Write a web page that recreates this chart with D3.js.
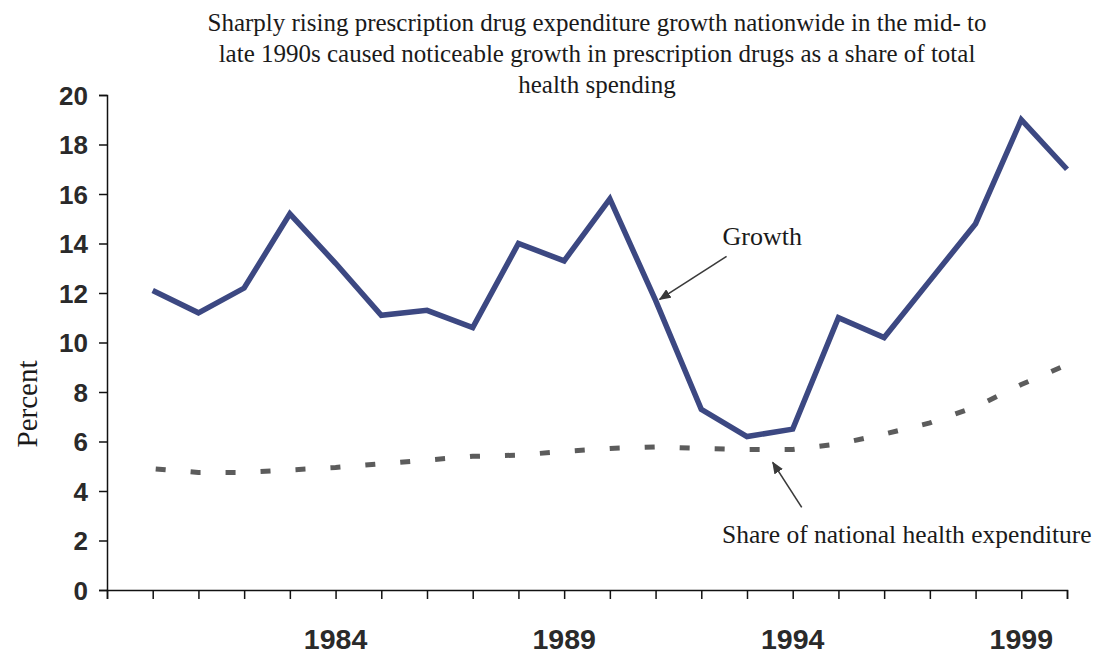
<!DOCTYPE html>
<html>
<head>
<meta charset="utf-8">
<script src="https://cdn.jsdelivr.net/npm/d3@7/dist/d3.min.js"></script>
<style>
  html, body { margin: 0; padding: 0; background: #ffffff; }
  svg { display: block; }
</style>
</head>
<body>
<svg id="chart" width="1096" height="656"></svg>
<script>
// Years on the horizontal axis
const years = [1980, 1981, 1982, 1983, 1984, 1985, 1986, 1987, 1988, 1989, 1990,
               1991, 1992, 1993, 1994, 1995, 1996, 1997, 1998, 1999, 2000];
// Annual growth in prescription drug expenditure (percent)
const growth = [12.1, 11.2, 12.2, 15.2, 13.2, 11.1, 11.3, 10.6, 14.0, 13.3, 15.8,
                11.7, 7.3, 6.2, 6.5, 11.0, 10.2, 12.5, 14.8, 19.0, 17.0];
// Prescription drugs as a share of national health expenditure (percent)
const share = [4.9, 4.75, 4.75, 4.85, 4.95, 5.1, 5.25, 5.4, 5.45, 5.6, 5.72,
               5.78, 5.72, 5.68, 5.68, 5.9, 6.3, 6.75, 7.4, 8.3, 9.1];
// Axis ticks and labels
const yTicks = [0, 2, 4, 6, 8, 10, 12, 14, 16, 18, 20];
const xTickYears = [1979, 1980, 1981, 1982, 1983, 1984, 1985, 1986, 1987, 1988, 1989, 1990,
                    1991, 1992, 1993, 1994, 1995, 1996, 1997, 1998, 1999, 2000];
const xLabelYears = [1984, 1989, 1994, 1999];
const titleLines = [
  "Sharply rising prescription drug expenditure growth nationwide in the mid- to",
  "late 1990s caused noticeable growth in prescription drugs as a share of total",
  "health spending"
];

const svg = d3.select("#chart");
const x = d3.scaleLinear().domain([1979, 2000]).range([107, 1067]);
const y = d3.scaleLinear().domain([0, 20]).range([590, 95]);

const serif = "'Liberation Serif', 'Times New Roman', serif";
const sans = "'Liberation Sans', Arial, sans-serif";

// Arrowhead marker
svg.append("defs").append("marker")
  .attr("id", "arrow")
  .attr("viewBox", "0 0 12 10")
  .attr("refX", 11).attr("refY", 5)
  .attr("markerWidth", 12).attr("markerHeight", 10)
  .attr("markerUnits", "userSpaceOnUse")
  .attr("orient", "auto")
  .append("path")
  .attr("d", "M0,0 L12,5 L0,10 Z")
  .attr("fill", "#3a3a3a");

// Title
svg.append("g")
  .selectAll("text")
  .data(titleLines)
  .join("text")
  .attr("x", 597)
  .attr("y", (d, i) => 31 + i * 31)
  .attr("text-anchor", "middle")
  .attr("font-family", serif)
  .attr("font-size", 25)
  .attr("fill", "#1a1a1a")
  .text(d => d);

// Y axis
const yAxis = svg.append("g")
  .attr("transform", `translate(${x(1979)},0)`)
  .call(d3.axisLeft(y).tickValues(yTicks).tickSize(8).tickPadding(11).tickFormat(d3.format("d")));
yAxis.select(".domain").attr("stroke", "#111").attr("stroke-width", 1.5);
yAxis.selectAll(".tick line").attr("stroke", "#111").attr("stroke-width", 1.5);
yAxis.selectAll(".tick text")
  .attr("font-family", sans).attr("font-weight", "bold")
  .attr("font-size", 26).attr("fill", "#2a2a2a").attr("dy", "0.36em");

// X axis
const xAxis = svg.append("g")
  .attr("transform", `translate(0,${y(0)})`)
  .call(d3.axisBottom(x).tickValues(xTickYears).tickSize(9).tickFormat(""));
xAxis.select(".domain").attr("stroke", "#111").attr("stroke-width", 1.5);
xAxis.selectAll(".tick line").attr("stroke", "#111").attr("stroke-width", 1.5);

svg.append("g")
  .selectAll("text")
  .data(xLabelYears)
  .join("text")
  .attr("x", d => x(d))
  .attr("y", 649)
  .attr("text-anchor", "middle")
  .attr("font-family", sans).attr("font-weight", "bold")
  .attr("font-size", 28.5).attr("fill", "#2a2a2a")
  .text(d => d);

// Y axis title
svg.append("text")
  .attr("transform", "translate(37,404) rotate(-90)")
  .attr("text-anchor", "middle")
  .attr("font-family", serif)
  .attr("font-size", 29)
  .attr("fill", "#1a1a1a")
  .text("Percent");

// Share of national health expenditure (dashed)
const shareLine = d3.line().x((d, i) => x(years[i])).y(d => y(d));
svg.append("path")
  .datum(share)
  .attr("d", shareLine)
  .attr("fill", "none")
  .attr("stroke", "#5c5c5c")
  .attr("stroke-width", 5)
  .attr("stroke-dasharray", "10,25")
  .attr("stroke-dashoffset", 32);

// Growth (solid)
const growthLine = d3.line().x((d, i) => x(years[i])).y(d => y(d));
svg.append("path")
  .datum(growth)
  .attr("d", growthLine)
  .attr("fill", "none")
  .attr("stroke", "#3c4882")
  .attr("stroke-width", 5.5)
  .attr("stroke-linejoin", "miter");

// Annotations
const gi = years.indexOf(1991);
svg.append("line")
  .attr("x1", x(1991) + 71).attr("y1", y(growth[gi]) - 44)
  .attr("x2", x(1991) + 4).attr("y2", y(growth[gi]) - 1)
  .attr("stroke", "#3a3a3a").attr("stroke-width", 1.6)
  .attr("marker-end", "url(#arrow)");
svg.append("text")
  .attr("x", x(1991) + 67).attr("y", y(growth[gi]) - 55)
  .attr("font-family", serif).attr("font-size", 26)
  .attr("fill", "#1a1a1a")
  .text("Growth");

const si = years.indexOf(1994);
svg.append("line")
  .attr("x1", x(1994) + 9).attr("y1", y(share[si]) + 58)
  .attr("x2", x(1994) - 20).attr("y2", y(share[si]) + 13)
  .attr("stroke", "#3a3a3a").attr("stroke-width", 1.6)
  .attr("marker-end", "url(#arrow)");
svg.append("text")
  .attr("x", 722).attr("y", 543)
  .attr("font-family", serif).attr("font-size", 25.5)
  .attr("fill", "#1a1a1a")
  .text("Share of national health expenditure");
</script>
</body>
</html>
